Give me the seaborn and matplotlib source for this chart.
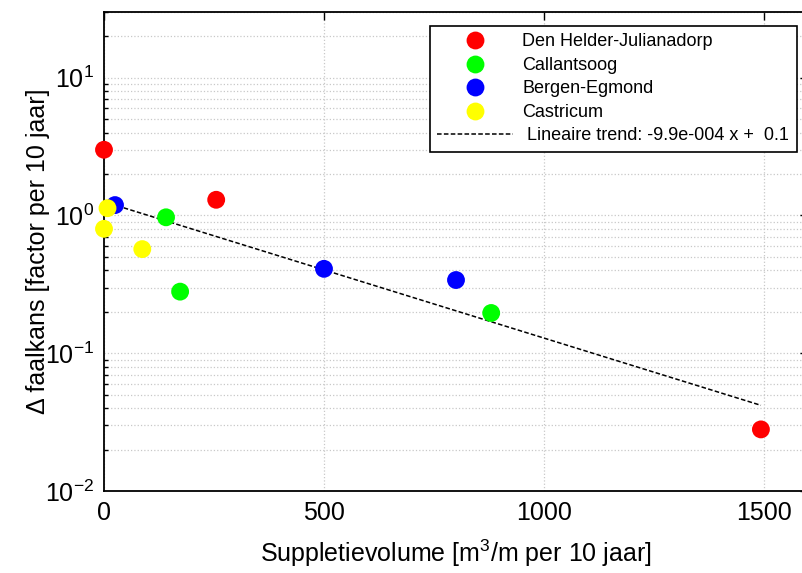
import matplotlib
matplotlib.use('Agg')
import matplotlib.pyplot as plt
import matplotlib.ticker as mticker
import numpy as np
import pandas as pd
import seaborn as sns

sns.set_style('white')
plt.rcParams['font.family'] = ['Liberation Sans', 'DejaVu Sans']
plt.rcParams['mathtext.default'] = 'regular'
plt.rcParams['text.color'] = 'black'
plt.rcParams['axes.labelcolor'] = 'black'
plt.rcParams['xtick.color'] = 'black'
plt.rcParams['ytick.color'] = 'black'

# data
locaties = ['Den Helder-Julianadorp'] * 3 + ['Callantsoog'] * 3 + ['Bergen-Egmond'] * 3 + ['Castricum'] * 3
volume = [0, 255, 1493, 141, 173, 880, 25, 500, 800, 8, 0, 87]
delta_faalkans = [3.0, 1.3, 0.028, 0.97, 0.28, 0.196, 1.19, 0.41, 0.34, 1.13, 0.8, 0.57]
kleuren = {
    'Den Helder-Julianadorp': '#ff0000',
    'Callantsoog': '#00ff00',
    'Bergen-Egmond': '#0000ff',
    'Castricum': '#ffff00',
}
trend_slope = -9.9e-4
trend_intercept = 0.1

df = pd.DataFrame({'locatie': locaties, 'volume': volume, 'delta': delta_faalkans})

fig = plt.figure(figsize=(8.03, 5.73), dpi=100)
ax = fig.add_axes([104 / 803, 1 - 491 / 573, 704 / 803, 479 / 573])

sns.scatterplot(data=df, x='volume', y='delta', hue='locatie', palette=kleuren,
                s=165, linewidth=0, ax=ax, zorder=3)
for coll in ax.collections:
    coll.set_clip_on(False)

trend_x = np.array([min(volume), max(volume)])
trend = pd.DataFrame({'x': trend_x, 'y': 10 ** (trend_intercept + trend_slope * trend_x)})
sns.lineplot(data=trend, x='x', y='y', ax=ax, color='black', linestyle=(0, (3, 1.5)),
             linewidth=1.1, label=' Lineaire trend: -9.9e-004 x +  0.1', zorder=2)

ax.set_yscale('log')
ax.set_xlim(0, 1600)
ax.set_ylim(0.01, 30)
ax.set_xticks([0, 500, 1000, 1500])
ax.yaxis.set_major_locator(mticker.LogLocator(base=10, numticks=10))
ax.yaxis.set_minor_locator(mticker.LogLocator(base=10, subs=np.arange(2, 10), numticks=20))

ax.grid(True, which='major', axis='both', color='#c8c8c8', linestyle=':', linewidth=0.9)
ax.grid(True, which='minor', axis='y', color='#c8c8c8', linestyle=':', linewidth=0.9)
ax.set_axisbelow(True)

ax.tick_params(axis='both', which='major', direction='in', length=6, width=1,
               labelsize=18, top=True, right=True, pad=7)
ax.tick_params(axis='y', which='minor', direction='in', length=3, width=1, right=True, left=True)
for sp in ax.spines.values():
    sp.set_color('black')
    sp.set_linewidth(1.3)

ax.set_xlabel('Suppletievolume [m$^3$/m per 10 jaar]', fontsize=18, labelpad=9)
ax.set_ylabel('Δ faalkans [factor per 10 jaar]', fontsize=18)
ax.yaxis.set_label_coords(-0.077, 0.5)

handles, labels = ax.get_legend_handles_labels()
leg = ax.legend(handles, labels, loc='upper right', bbox_to_anchor=(0.984, 0.971),
                borderaxespad=0, fontsize=13, frameon=True, fancybox=False,
                edgecolor='black', framealpha=1, handlelength=4.2, handletextpad=0.5,
                labelspacing=0.36, borderpad=0.42, markerscale=1.0)
leg.get_frame().set_linewidth(1.2)

fig.savefig('out.png', dpi=100)
